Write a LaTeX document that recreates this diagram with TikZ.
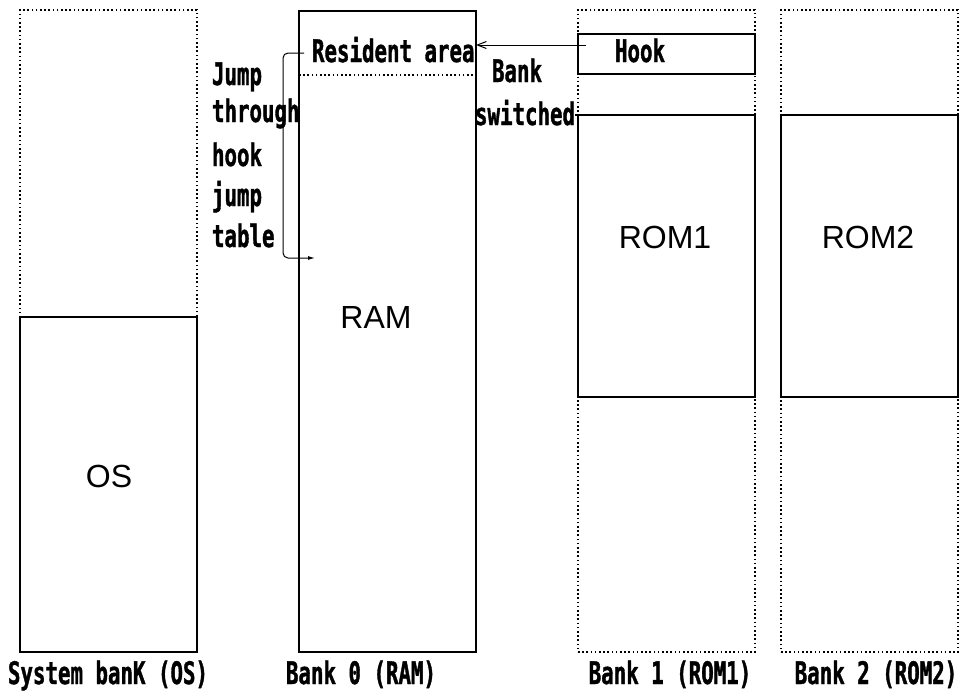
\documentclass[tikz,border=0pt]{standalone}
\usepackage{fontspec}
\usetikzlibrary{arrows.meta}
\newfontfamily\lblfont[FakeStretch=0.67, BoldFeatures={FakeBold=1.2}]{DejaVu Sans Mono}
\newfontfamily\bigfont{Liberation Sans}
\tikzset{
  dotline/.style={line width=1.8pt, dash pattern=on 1.6pt off 2.6pt},
  dotbox/.style={draw, dotline, inner sep=0pt, outer sep=0pt, anchor=north west},
  solidbox/.style={draw, line width=1.8pt, inner sep=0pt, outer sep=0pt, anchor=north west},
  lbl/.style={inner sep=0pt, outer sep=0pt, font=\lblfont\bfseries\fontsize{31}{32}\selectfont},
  big/.style={inner sep=0pt, outer sep=0pt, font=\bigfont\fontsize{32}{34}\selectfont},
  conn/.style={line width=1pt},
}
\begin{document}
\begin{tikzpicture}[x=1pt,y=-1pt]
\useasboundingbox (0,0) rectangle (961,696);
% banks
\node[dotbox, minimum width=177pt, minimum height=642pt] (sysbank) at (20,10) {};
\node[solidbox, minimum width=177pt, minimum height=335pt] (os) at (20,317) {};
\node[solidbox, minimum width=177pt, minimum height=641pt] (ram) at (299,11) {};
\node[dotbox, minimum width=177pt, minimum height=642pt] (bank1) at (578,10) {};
\node[solidbox, minimum width=177pt, minimum height=40pt] (hook) at (578,34) {};
\node[solidbox, minimum width=177pt, minimum height=282pt] (rom1) at (578,115) {};
\node[dotbox, minimum width=177pt, minimum height=642pt] (bank2) at (781,10) {};
\node[solidbox, minimum width=177pt, minimum height=282pt] (rom2) at (781,115) {};
% resident area separator
\coordinate (rsl) at (299,75);
\draw[dotline] (rsl) -- (rsl -| ram.east);
% big labels
\node[big] (ramlbl) at (376,317) {RAM};
\node[big] (oslbl) at (109,476) {OS};
\node[big] (rom1lbl) at (665,237) {ROM1};
\node[big] (rom2lbl) at (868,237) {ROM2};
% small labels
\node[lbl, anchor=base west] (resident) at (312,62) {Resident area};
\node[lbl, anchor=base west] (hooklbl) at (615,62) {Hook};
\node[lbl, anchor=base west] (banklbl) at (492,82) {Bank};
\node[lbl, anchor=base west] (switched) at (475,125) {switched};
\node[lbl, anchor=base west] (j1) at (212,85) {Jump};
\node[lbl, anchor=base west] (j2) at (212,122) {through};
\node[lbl, anchor=base west] (j3) at (212,166) {hook};
\node[lbl, anchor=base west] (j4) at (212,206) {jump};
\node[lbl, anchor=base west] (j5) at (212,247) {table};
% bottom labels
\node[lbl, anchor=base] (b0) at (108,684) {System banK (OS)};
\node[lbl, anchor=base] (b1) at (361,684) {Bank 0 (RAM)};
\node[lbl, anchor=base] (b2) at (670,684) {Bank 1 (ROM1)};
\node[lbl, anchor=base] (b3) at (876,684) {Bank 2 (ROM2)};
% hook arrow
\coordinate (hs) at (586,45);
\draw[conn, -{Straight Barb[length=9pt,width=7pt]}] (hs) -- (ram.east |- hs);
% bank switched line
\draw[line width=1.8pt] (switched.east |- rom1.north) -- (rom1.north west);
% jump through hook jump table
\coordinate (js) at (304,53);
\coordinate (je) at (315,258);
\draw[conn, rounded corners=5pt, -{Latex[length=7pt,width=4pt]}] (js) -- (283,53) -- (283,258) -- (je);
\end{tikzpicture}
\end{document}
